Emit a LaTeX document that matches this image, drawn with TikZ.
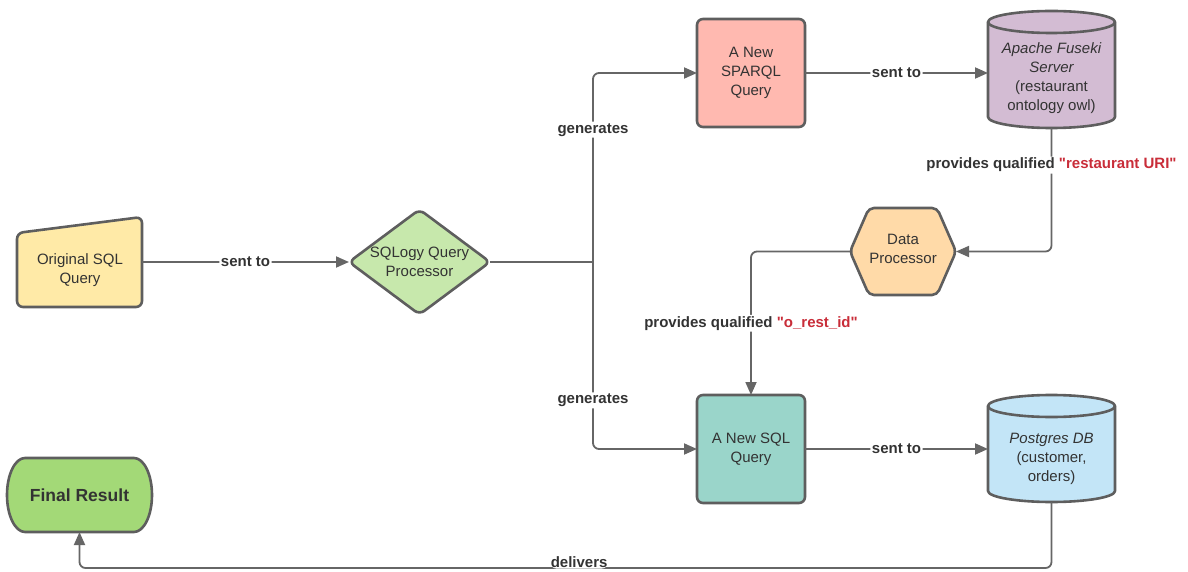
\documentclass[tikz,border=0pt]{standalone}
\usepackage{fontspec}
\setmainfont{Liberation Sans}
\usetikzlibrary{shapes.geometric,arrows.meta,calc}

\definecolor{edgegray}{HTML}{5E5E5E}
\definecolor{linegray}{HTML}{666666}
\definecolor{txt}{HTML}{333333}
\definecolor{accent}{HTML}{C92D39}
\definecolor{cYellow}{HTML}{FFEAA7}
\definecolor{cGreen}{HTML}{C7E8AC}
\definecolor{cSalmon}{HTML}{FFB9B0}
\definecolor{cPurple}{HTML}{D3BCD3}
\definecolor{cOrange}{HTML}{FFDAA8}
\definecolor{cTeal}{HTML}{9AD5CA}
\definecolor{cBlue}{HTML}{C3E5F7}
\definecolor{cLime}{HTML}{A3D977}

\tikzset{
  shapeline/.style={draw=edgegray, line width=2.6pt, line join=round},
  frame/.style={inner sep=0pt, outer sep=0pt},
  boxtext/.style={text=txt, align=center, font=\fontsize{15}{19}\selectfont},
  conn/.style={draw=linegray, line width=1.8pt, rounded corners=6pt,
    -{Triangle[length=13pt,width=11pt]}},
  plain/.style={draw=linegray, line width=1.8pt, rounded corners=6pt},
  lbl/.style={fill=white, inner sep=1.5pt, text=txt,
    font=\bfseries\fontsize{15}{18}\selectfont},
}

\newcommand\qt{\textquotedbl}

% cylinder drawn over the frame node #1 (ellipse radii 63.5 x 11)
\newcommand\drawdrum[2]{%
  \filldraw[shapeline, fill=#2]
    ([yshift=-11pt]#1.north west) -- ([yshift=11pt]#1.south west)
    arc[start angle=180, end angle=360, x radius=63.5pt, y radius=11pt]
    -- ([yshift=-11pt]#1.north east)
    arc[start angle=0, end angle=180, x radius=63.5pt, y radius=11pt] -- cycle;
  \draw[shapeline] ([yshift=-11pt]#1.north west)
    arc[start angle=180, end angle=360, x radius=63.5pt, y radius=11pt];
}

\begin{document}
\begin{tikzpicture}[x=1pt, y=1pt]
\useasboundingbox (0,0) rectangle (1188,571);

% ---------- Original SQL Query (manual input shape)
\node[frame, minimum width=125pt, minimum height=90pt] (orig) at (79.5,309) {};
\filldraw[shapeline, fill=cYellow, rounded corners=6pt]
  (17,338) -- (142,354) -- (142,264) -- (17,264) -- cycle;
\node[boxtext] (origtxt) at (80,301) {Original SQL\\Query};

% ---------- SQLogy Query Processor (diamond)
\node[diamond, frame, minimum width=141pt, minimum height=105pt,
  shapeline, fill=cGreen, rounded corners=6pt] (proc) at (419.5,309) {};
\node[boxtext] (proctxt) at (proc) {SQLogy Query\\Processor};

% ---------- A New SPARQL Query
\node[frame, shapeline, fill=cSalmon, rounded corners=6pt,
  minimum width=108pt, minimum height=108pt, boxtext] (sparql) at (751,498)
  {A New\\SPARQL\\Query};

% ---------- Apache Fuseki Server (cylinder)
\node[frame, minimum width=127pt, minimum height=117pt] (fuseki) at (1051.5,501.5) {};
\drawdrum{fuseki}{cPurple}
\node[boxtext] (fusekitxt) at (1051.5,493)
  {\itshape Apache Fuseki\\\itshape Server\\(restaurant\\ontology owl)};

% ---------- Data Processor (hexagon)
\node[frame, minimum width=106pt, minimum height=87pt] (dp) at (903,319.5) {};
\filldraw[shapeline, fill=cOrange, rounded corners=5pt]
  (dp.west) -- ([xshift=19pt]dp.north west) -- ([xshift=-19pt]dp.north east)
  -- (dp.east) -- ([xshift=-19pt]dp.south east) -- ([xshift=19pt]dp.south west)
  -- cycle;
\node[boxtext] (dptxt) at (903,322) {Data\\Processor};

% ---------- A New SQL Query
\node[frame, shapeline, fill=cTeal, rounded corners=6pt,
  minimum width=108pt, minimum height=108pt, boxtext] (sql) at (751,122)
  {A New SQL\\Query};

% ---------- Postgres DB (cylinder)
\node[frame, minimum width=127pt, minimum height=107pt] (pg) at (1051.5,122.5) {};
\drawdrum{pg}{cBlue}
\node[boxtext] (pgtxt) at (1051.5,112)
  {\itshape Postgres DB\\(customer,\\orders)};

% ---------- Final Result (terminator)
\node[frame, minimum width=145pt, minimum height=74pt] (final) at (79.5,76) {};
\filldraw[shapeline, fill=cLime]
  ([xshift=18pt]final.north west) -- ([xshift=-18pt]final.north east)
  arc[start angle=90, end angle=-90, x radius=18pt, y radius=37pt]
  -- ([xshift=18pt]final.south west)
  arc[start angle=270, end angle=90, x radius=18pt, y radius=37pt] -- cycle;
\node[text=txt, font=\bfseries\fontsize{17.5}{20}\selectfont] (finaltxt) at (final) {Final Result};

% ---------- connectors
\coordinate (fork) at (593,309);

\draw[conn] (orig.east) -- node[lbl] {sent to} (proc.west);
\draw[plain] (proc.east) -- (fork);
\draw[conn] (fork) -- (fork |- sparql.west)
  node[lbl, pos=0.7] {generates} -- (sparql.west);
\draw[conn] (fork) -- (fork |- sql.west)
  node[lbl, pos=0.74] {generates} -- (sql.west);

\draw[conn] (sparql.east) -- node[lbl] {sent to} (sparql.east -| fuseki.west);
\draw[conn] (fuseki.south) -- (fuseki.south |- dp.east)
  node[lbl, pos=0.3] {provides qualified \textcolor{accent}{\qt restaurant URI\qt}}
  -- (dp.east);
\draw[conn] (dp.west) -- (dp.west -| sql.north) -- (sql.north)
  node[lbl, pos=0.5] {provides qualified \textcolor{accent}{\qt o\_rest\_id\qt}};

\draw[conn] (sql.east) -- node[lbl] {sent to} (sql.east -| pg.west);
\coordinate (low) at (0,3);
\draw[conn] (pg.south) -- (pg.south |- low) -- (final.south |- low)
  node[lbl, pos=0.486, yshift=5.5pt, inner sep=0.5pt] {delivers} -- (final.south);
\end{tikzpicture}
\end{document}
